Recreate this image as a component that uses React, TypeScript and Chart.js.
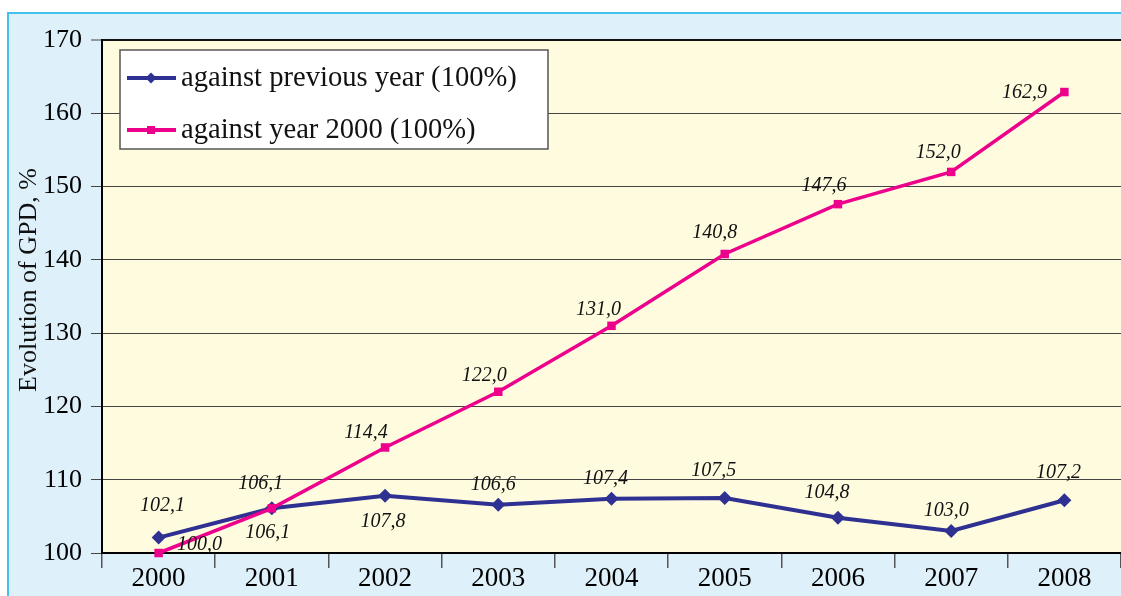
import React, { useEffect, useRef } from 'react';
import { Chart, registerables } from 'chart.js';

Chart.register(...registerables);

const years = ['2000', '2001', '2002', '2003', '2004', '2005', '2006', '2007', '2008'];
const prevYear = [102.1, 106.1, 107.8, 106.6, 107.4, 107.5, 104.8, 103.0, 107.2];
const vs2000 = [100.0, 106.1, 114.4, 122.0, 131.0, 140.8, 147.6, 152.0, 162.9];
const seriesNames = ['against previous year (100%)', 'against year 2000 (100%)'];
const yTicks = [100, 110, 120, 130, 140, 150, 160, 170];
const axisTitle = 'Evolution of GPD, %';

const SERIF = "'Liberation Serif', 'DejaVu Serif', serif";
const BLUE = '#2e3192';
const PINK = '#ec008c';

// label placement relative to each point (dx, dy) per dataset
const LABEL_OFFSETS: number[][][] = [
  [[4, -32], [-11, -25], [-2, 26], [-5, -20], [-6, -20], [-11, -27], [-11, -25], [-5, -20], [-6, -27]],
  [[41, -8], [-4, 24], [-19, -15], [-14, -16], [-13, -16], [-10, -21], [-14, -18], [-13, -19], [-40, 1]],
];

const fmt = (v: number) => v.toFixed(1).replace('.', ',');

const backgroundPlugin = {
  id: 'bgPanels',
  beforeDraw(chart: any) {
    const { ctx, width, height, chartArea } = chart;
    ctx.save();
    ctx.fillStyle = '#ffffff';
    ctx.fillRect(0, 0, width, height);
    ctx.fillStyle = '#def1fa';
    ctx.fillRect(7, 12, width - 7, height - 12);
    ctx.strokeStyle = '#45c0ec';
    ctx.lineWidth = 2;
    ctx.beginPath();
    ctx.moveTo(width, 13);
    ctx.lineTo(8, 13);
    ctx.lineTo(8, height);
    ctx.stroke();
    ctx.fillStyle = '#fffbdf';
    ctx.fillRect(chartArea.left, chartArea.top, chartArea.right - chartArea.left, chartArea.bottom - chartArea.top);
    // axis title
    ctx.translate(29, 280);
    ctx.rotate(-Math.PI / 2);
    ctx.font = `26px ${SERIF}`;
    ctx.fillStyle = '#111';
    ctx.textAlign = 'center';
    ctx.textBaseline = 'middle';
    ctx.fillText(axisTitle, 0, 0);
    ctx.restore();
  },
};

const overlayPlugin = {
  id: 'overlay',
  afterDatasetsDraw(chart: any) {
    const ctx = chart.ctx;
    ctx.save();
    // value labels
    ctx.font = `italic 20px ${SERIF}`;
    ctx.fillStyle = '#111';
    ctx.textAlign = 'center';
    ctx.textBaseline = 'middle';
    chart.data.datasets.forEach((ds: any, i: number) => {
      const meta = chart.getDatasetMeta(i);
      meta.data.forEach((pt: any, j: number) => {
        const [dx, dy] = LABEL_OFFSETS[i][j];
        ctx.fillText(fmt(ds.data[j]), pt.x + dx, pt.y + dy);
      });
    });
    // legend
    const bx = 120, by = 50, bw = 428, bh = 99;
    ctx.fillStyle = '#ffffff';
    ctx.fillRect(bx, by, bw, bh);
    ctx.strokeStyle = '#555';
    ctx.lineWidth = 1.5;
    ctx.strokeRect(bx, by, bw, bh);
    const rows = [
      { y: 78, color: BLUE, style: 'rectRot', r: 5.5, name: seriesNames[0] },
      { y: 130, color: PINK, style: 'rect', r: 5.5, name: seriesNames[1] },
    ];
    rows.forEach((row) => {
      ctx.strokeStyle = row.color;
      ctx.lineWidth = 4;
      ctx.beginPath();
      ctx.moveTo(127, row.y);
      ctx.lineTo(176, row.y);
      ctx.stroke();
      ctx.fillStyle = row.color;
      ctx.beginPath();
      if (row.style === 'rectRot') {
        ctx.moveTo(151, row.y - row.r);
        ctx.lineTo(151 + row.r, row.y);
        ctx.lineTo(151, row.y + row.r);
        ctx.lineTo(151 - row.r, row.y);
        ctx.closePath();
      } else {
        ctx.rect(151 - 4, row.y - 4, 8, 8);
      }
      ctx.fill();
      ctx.fillStyle = '#111';
      ctx.font = `28.6px ${SERIF}`;
      ctx.textAlign = 'left';
      ctx.textBaseline = 'middle';
      ctx.fillText(row.name, 181, row.y);
    });
    ctx.restore();
  },
};

export default function App() {
  const ref = useRef<HTMLCanvasElement | null>(null);
  useEffect(() => {
    if (!ref.current) return;
    const chart = new Chart(ref.current, {
      type: 'line',
      data: {
        labels: years,
        datasets: [
          {
            label: seriesNames[0],
            data: prevYear,
            borderColor: BLUE,
            backgroundColor: BLUE,
            borderWidth: 4,
            pointStyle: 'rectRot',
            pointRadius: 7,
            pointBorderWidth: 0,
            tension: 0,
            clip: false,
            order: 1,
          },
          {
            label: seriesNames[1],
            data: vs2000,
            borderColor: PINK,
            backgroundColor: PINK,
            borderWidth: 3.5,
            pointStyle: 'rect',
            pointRadius: 6,
            pointBorderWidth: 0,
            tension: 0,
            clip: false,
            order: 0,
          },
        ],
      },
      options: {
        responsive: false,
        animation: false,
        layout: { padding: { top: 40, left: 0, right: 0, bottom: 0 }, autoPadding: false },
        plugins: { legend: { display: false }, tooltip: { enabled: false } },
        scales: {
          x: {
            type: 'category',
            offset: true,
            grid: {
              offset: true,
              drawOnChartArea: false,
              drawTicks: true,
              tickLength: 15,
              color: '#555',
              lineWidth: 1.5,
            },
            border: { display: true, color: '#000', width: 2 },
            ticks: {
              color: '#000',
              font: { family: SERIF, size: 27, lineHeight: 0.8 },
              padding: 0,
              maxRotation: 0,
              autoSkip: false,
            },
            afterFit: (s: any) => {
              s.height = 43;
            },
          },
          y: {
            min: 100,
            max: 170,
            afterBuildTicks: (s: any) => {
              s.ticks = yTicks.map((v) => ({ value: v }));
            },
            grid: {
              color: (c: any) => (c.tick && c.tick.value === 170 ? '#111' : '#444'),
              lineWidth: (c: any) => (c.tick && c.tick.value === 170 ? 2 : 1),
              tickLength: 11,
              tickColor: '#444',
              tickWidth: 1,
            },
            border: { display: true, color: '#000', width: 2 },
            ticks: {
              color: '#000',
              font: { family: SERIF, size: 26 },
              padding: 9,
            },
            afterFit: (s: any) => {
              s.width = 102;
            },
          },
        },
      },
      plugins: [backgroundPlugin, overlayPlugin],
    } as any);
    return () => chart.destroy();
  }, []);
  return (
    <canvas
      ref={ref}
      width={1121}
      height={596}
      style={{ display: 'block', position: 'fixed', left: 0, top: 0 }}
    />
  );
}
